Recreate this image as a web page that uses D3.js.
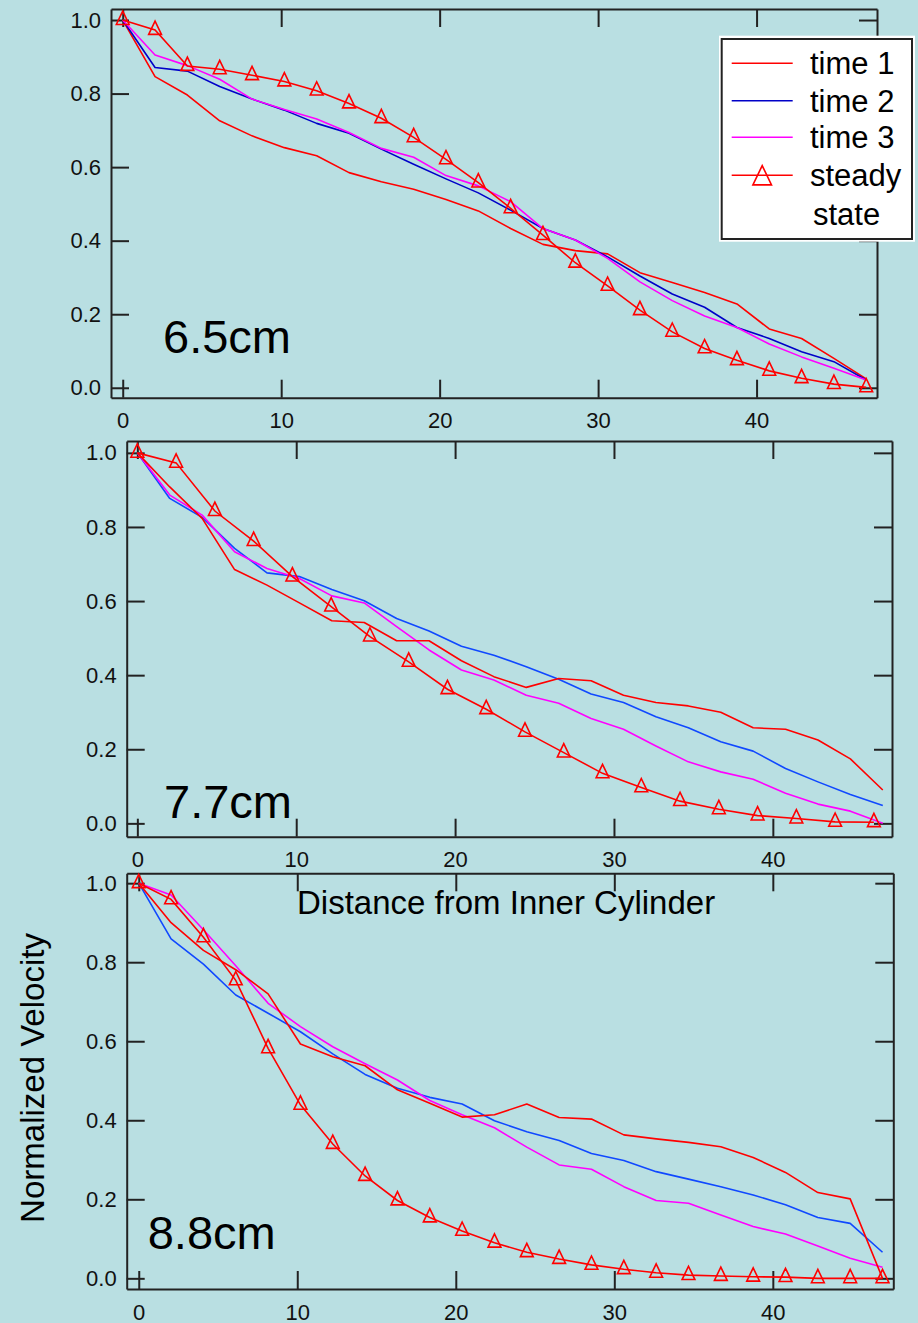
<!DOCTYPE html>
<html>
<head>
<meta charset="utf-8">
<title>Normalized Velocity</title>
<script src="https://cdn.jsdelivr.net/npm/d3@7"></script>
<style>
    body { margin: 0; background: #b9dfe2; }
    svg { display: block; font-family: "Liberation Sans", Arial, sans-serif; }
</style>
</head>
<body>
<div id="chart"></div>
<script>

// distance from inner cylinder (measurement stations)
const distance = [0, 2.04, 4.08, 6.12, 8.16, 10.2, 12.24, 14.28, 16.32, 18.36, 20.4, 22.44,
    24.48, 26.52, 28.56, 30.6, 32.64, 34.68, 36.72, 38.76, 40.8, 42.84, 44.88, 46.92];
// steady state of the 7.7cm case was computed on a coarser grid
const distanceCoarse = [0, 2.44, 4.88, 7.32, 9.76, 12.2, 14.64, 17.08, 19.52, 21.96, 24.4, 26.84,
    29.28, 31.72, 34.16, 36.6, 39.04, 41.48, 43.92, 46.36];

// 6.5cm
const time1_65 = [1.0, 0.846, 0.796, 0.726, 0.685, 0.653, 0.631, 0.585, 0.560, 0.540, 0.512, 0.481,
    0.433, 0.390, 0.373, 0.364, 0.313, 0.286, 0.259, 0.228, 0.160, 0.134, 0.080, 0.024];
const time2_65 = [1.0, 0.871, 0.861, 0.819, 0.785, 0.755, 0.719, 0.692, 0.649, 0.608, 0.568, 0.530,
    0.483, 0.433, 0.402, 0.356, 0.304, 0.255, 0.219, 0.164, 0.134, 0.098, 0.071, 0.021];
const time3_65 = [1.0, 0.905, 0.876, 0.839, 0.785, 0.757, 0.731, 0.694, 0.651, 0.627, 0.577, 0.549,
    0.506, 0.433, 0.402, 0.352, 0.288, 0.237, 0.195, 0.164, 0.119, 0.084, 0.053, 0.021];
const steady_65 = [1.0, 0.973, 0.875, 0.866, 0.850, 0.833, 0.808, 0.773, 0.733, 0.681, 0.621, 0.558,
    0.488, 0.415, 0.340, 0.277, 0.211, 0.152, 0.107, 0.075, 0.046, 0.026, 0.010, 0.001];

// 7.7cm
const time1_77 = [1.0, 0.908, 0.823, 0.685, 0.643, 0.595, 0.547, 0.542, 0.493, 0.493, 0.439, 0.396,
    0.367, 0.391, 0.385, 0.346, 0.326, 0.317, 0.300, 0.258, 0.254, 0.225, 0.174, 0.090];
const time2_77 = [1.0, 0.877, 0.826, 0.742, 0.676, 0.666, 0.631, 0.601, 0.553, 0.519, 0.478, 0.454,
    0.423, 0.389, 0.349, 0.326, 0.288, 0.258, 0.220, 0.195, 0.148, 0.112, 0.078, 0.048];
const time3_77 = [1.0, 0.886, 0.832, 0.733, 0.688, 0.661, 0.614, 0.595, 0.531, 0.468, 0.414, 0.387,
    0.346, 0.324, 0.283, 0.254, 0.209, 0.166, 0.139, 0.119, 0.081, 0.052, 0.033, 0.0];
const steady_77 = [1.0, 0.973, 0.843, 0.762, 0.666, 0.585, 0.504, 0.436, 0.362, 0.308, 0.247, 0.191,
    0.135, 0.097, 0.060, 0.038, 0.021, 0.013, 0.004, 0.003];

// 8.8cm
const time1_88 = [1.0, 0.900, 0.830, 0.781, 0.720, 0.593, 0.561, 0.538, 0.477, 0.443, 0.408, 0.414,
    0.441, 0.407, 0.403, 0.363, 0.353, 0.344, 0.333, 0.306, 0.268, 0.217, 0.201, 0.0];
const time2_88 = [1.0, 0.859, 0.795, 0.717, 0.671, 0.624, 0.568, 0.516, 0.481, 0.458, 0.441, 0.399,
    0.371, 0.349, 0.316, 0.298, 0.270, 0.251, 0.232, 0.211, 0.186, 0.154, 0.139, 0.066];
const time3_88 = [1.0, 0.970, 0.882, 0.791, 0.696, 0.637, 0.586, 0.543, 0.502, 0.450, 0.414, 0.381,
    0.332, 0.287, 0.276, 0.232, 0.197, 0.190, 0.160, 0.131, 0.112, 0.082, 0.051, 0.028];
const steady_88 = [1.0, 0.959, 0.863, 0.754, 0.582, 0.439, 0.340, 0.259, 0.197, 0.154, 0.120, 0.090,
    0.066, 0.049, 0.034, 0.023, 0.014, 0.008, 0.006, 0.004, 0.003, 0.0, 0.0, 0.0];

const xTicks = [0, 10, 20, 30, 40];
const yTicks = [0, 0.2, 0.4, 0.6, 0.8, 1.0];
const legendNames = ["time 1", "time 2", "time 3", "steady"];

const width = 918, height = 1323;

const svg = d3.select("#chart").append("svg")
    .attr("width", width)
    .attr("height", height);

svg.append("rect")
    .attr("width", width)
    .attr("height", height)
    .attr("fill", "#b9dfe2");

// triangle marker, centroid on the data point
const triangle = "M0,-8.9L6.4,4.4L-6.4,4.4Z";


class VelocityPanel {

    constructor(svg, opts) {
        this.svg = svg;
        this.opts = opts;

        this.initVis();
    }

    initVis() {

        let vis = this;
        let o = vis.opts;

        vis.x = d3.scaleLinear().domain(o.xDomain).range([o.left, o.right]);
        vis.y = d3.scaleLinear().domain(o.yDomain).range([o.bottom, o.top]);

        vis.g = vis.svg.append("g");

        vis.line = d3.line()
            .x(d => vis.x(d[0]))
            .y(d => vis.y(d[1]));

        // frame + inward ticks on all four sides
        vis.g.append("g")
            .attr("class", "axis")
            .attr("transform", `translate(0, ${o.bottom})`)
            .call(d3.axisBottom(vis.x).tickValues(xTicks).tickSize(-18).tickSizeOuter(0).tickPadding(15).tickFormat(d3.format("d")));

        vis.g.append("g")
            .attr("class", "axis")
            .attr("transform", `translate(0, ${o.top})`)
            .call(d3.axisTop(vis.x).tickValues(xTicks).tickSize(-18).tickSizeOuter(0).tickFormat(""));

        vis.g.append("g")
            .attr("class", "axis")
            .attr("transform", `translate(${o.left}, 0)`)
            .call(d3.axisLeft(vis.y).tickValues(yTicks).tickSize(-18).tickSizeOuter(0).tickPadding(10).tickFormat(d3.format(".1f")));

        vis.g.append("g")
            .attr("class", "axis")
            .attr("transform", `translate(${o.right}, 0)`)
            .call(d3.axisRight(vis.y).tickValues(yTicks).tickSize(-18).tickSizeOuter(0).tickFormat(""));

        vis.g.selectAll(".axis path, .axis line")
            .attr("stroke", "#222")
            .attr("stroke-width", 2);

        vis.g.selectAll(".axis text")
            .attr("fill", "#111")
            .attr("font-size", "22px")
            .attr("font-family", "Liberation Sans, Arial, sans-serif");

        // time curves
        o.series.forEach(s => {
            vis.g.append("path")
                .datum(d3.zip(s.x, s.values))
                .attr("fill", "none")
                .attr("stroke", s.color)
                .attr("stroke-width", 1.6)
                .attr("stroke-linejoin", "round")
                .attr("d", vis.line);
        });

        // steady state with triangles
        let steady = d3.zip(o.steady.x, o.steady.values);

        vis.g.append("path")
            .datum(steady)
            .attr("fill", "none")
            .attr("stroke", "#ff0000")
            .attr("stroke-width", 1.6)
            .attr("d", vis.line);

        vis.g.append("g")
            .selectAll("path")
            .data(steady)
            .join("path")
            .attr("d", triangle)
            .attr("transform", d => `translate(${vis.x(d[0])}, ${vis.y(d[1])})`)
            .attr("fill", "none")
            .attr("stroke", "#ff0000")
            .attr("stroke-width", 1.6);

        // big position label
        vis.g.append("text")
            .attr("x", o.labelX)
            .attr("y", o.labelY)
            .attr("font-size", "47px")
            .attr("fill", "#000")
            .text(o.label);
    }
}

const panels = [
    {
        left: 111, right: 877, top: 9, bottom: 397.7,
        xDomain: [-0.74, 47.6], yDomain: [-0.027, 1.03],
        label: "6.5cm", labelX: 163, labelY: 353,
        series: [
            {x: distance, values: time1_65, color: "#ff0000"},
            {x: distance, values: time2_65, color: "#0000c8"},
            {x: distance, values: time3_65, color: "#ff00ff"}
        ],
        steady: {x: distance, values: steady_65}
    },
    {
        left: 126.7, right: 892, top: 441, bottom: 836.7,
        xDomain: [-0.67, 47.5], yDomain: [-0.036, 1.032],
        label: "7.7cm", labelX: 164, labelY: 818,
        series: [
            {x: distance, values: time2_77, color: "#1048ff"},
            {x: distance, values: time3_77, color: "#ff00ff"},
            {x: distance, values: time1_77, color: "#ff0000"}
        ],
        steady: {x: distanceCoarse, values: steady_77}
    },
    {
        left: 126.7, right: 893.3, top: 873.3, bottom: 1289,
        xDomain: [-0.76, 47.6], yDomain: [-0.027, 1.025],
        label: "8.8cm", labelX: 147.7, labelY: 1249,
        series: [
            {x: distance, values: time2_88, color: "#1048ff"},
            {x: distance, values: time3_88, color: "#ff00ff"},
            {x: distance, values: time1_88, color: "#ff0000"}
        ],
        steady: {x: distance, values: steady_88}
    }
];

panels.forEach(p => new VelocityPanel(svg, p));

// legend (sits on the first panel)
let legend = svg.append("g");

legend.append("rect")
    .attr("x", 719).attr("y", 35.7)
    .attr("width", 196).attr("height", 206)
    .attr("fill", "#fff");

legend.append("rect")
    .attr("x", 721.7).attr("y", 39)
    .attr("width", 190.3).attr("height", 200)
    .attr("fill", "#fff")
    .attr("stroke", "#222")
    .attr("stroke-width", 2);

const legendColors = ["#ff0000", "#0000c8", "#ff00ff", "#ff0000"];
const legendY = [63.3, 100.7, 137.3, 175.3];

legendNames.forEach((name, i) => {
    legend.append("line")
        .attr("x1", 731.7).attr("x2", 792.7)
        .attr("y1", legendY[i]).attr("y2", legendY[i])
        .attr("stroke", legendColors[i])
        .attr("stroke-width", 1.6);

    legend.append("text")
        .attr("x", 810)
        .attr("y", legendY[i] + 11)
        .attr("font-size", "31px")
        .text(name);
});

legend.append("path")
    .attr("d", "M0,-9.7L9.3,9.6L-9.3,9.6Z")
    .attr("transform", `translate(762.2, ${legendY[3]})`)
    .attr("fill", "none")
    .attr("stroke", "#ff0000")
    .attr("stroke-width", 1.6);

legend.append("text")
    .attr("x", 813)
    .attr("y", 225)
    .attr("font-size", "31px")
    .text("state");

// axis titles
svg.append("text")
    .attr("x", 297)
    .attr("y", 914)
    .attr("font-size", "33px")
    .text("Distance from Inner Cylinder");

svg.append("text")
    .attr("transform", "translate(44, 1078) rotate(-90)")
    .attr("text-anchor", "middle")
    .attr("font-size", "33px")
    .text("Normalized Velocity");

</script>
</body>
</html>
